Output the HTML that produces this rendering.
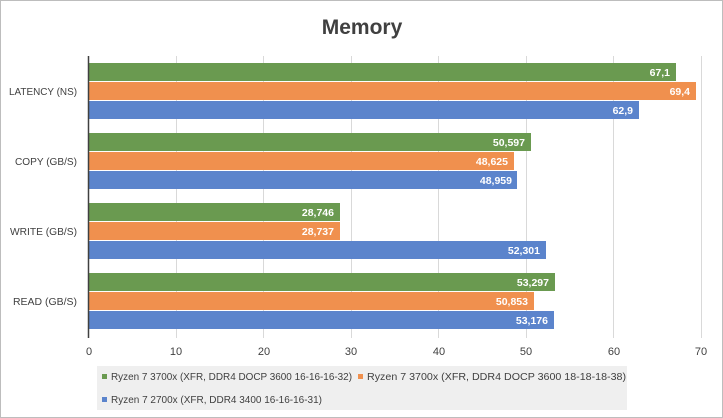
<!DOCTYPE html>
<html><head><style>
body{margin:0;background:#fff}
svg{display:block;font-family:"Liberation Sans",sans-serif}
</style></head><body>
<svg width="723" height="418" viewBox="0 0 723 418">
<rect x="0.5" y="0.5" width="722" height="417" fill="#fff" stroke="#bdbdbd"/>
<text x="362" y="34" font-size="21" font-weight="bold" fill="#404040" text-anchor="middle">Memory</text>
<g stroke="#d9d9d9" stroke-width="1">
<line x1="176.5" y1="56" x2="176.5" y2="338"/><line x1="263.5" y1="56" x2="263.5" y2="338"/>
<line x1="351.5" y1="56" x2="351.5" y2="338"/><line x1="438.5" y1="56" x2="438.5" y2="338"/>
<line x1="526.5" y1="56" x2="526.5" y2="338"/><line x1="613.5" y1="56" x2="613.5" y2="338"/>
<line x1="701.5" y1="56" x2="701.5" y2="338"/>
</g>
<g font-size="10.5" fill="#fff" font-weight="bold" text-anchor="end">
<rect x="89" y="63" width="587" height="18" fill="#6a9a50"/><text x="670" y="76">67,1</text>
<rect x="89" y="82" width="607" height="18" fill="#f0904e"/><text x="690" y="95">69,4</text>
<rect x="89" y="101" width="550" height="18" fill="#5b84cc"/><text x="633" y="114">62,9</text>
<rect x="89" y="133" width="442" height="18" fill="#6a9a50"/><text x="525" y="146">50,597</text>
<rect x="89" y="152" width="425" height="18" fill="#f0904e"/><text x="508" y="165">48,625</text>
<rect x="89" y="171" width="428" height="18" fill="#5b84cc"/><text x="512" y="184">48,959</text>
<rect x="89" y="203" width="251" height="18" fill="#6a9a50"/><text x="334" y="216">28,746</text>
<rect x="89" y="222" width="251" height="18" fill="#f0904e"/><text x="334" y="235">28,737</text>
<rect x="89" y="241" width="457" height="18" fill="#5b84cc"/><text x="540" y="254">52,301</text>
<rect x="89" y="273" width="466" height="18" fill="#6a9a50"/><text x="549" y="286">53,297</text>
<rect x="89" y="292" width="445" height="18" fill="#f0904e"/><text x="528" y="305">50,853</text>
<rect x="89" y="311" width="465" height="18" fill="#5b84cc"/><text x="548" y="324">53,176</text>
</g>
<line x1="88.5" y1="56" x2="88.5" y2="338" stroke="#404040" stroke-width="1.5"/>
<g font-size="10" fill="#404040">
<text x="9" y="95" textLength="68" lengthAdjust="spacingAndGlyphs">LATENCY (NS)</text>
<text x="15" y="165" textLength="62" lengthAdjust="spacingAndGlyphs">COPY (GB/S)</text>
<text x="10" y="235" textLength="67" lengthAdjust="spacingAndGlyphs">WRITE (GB/S)</text>
<text x="13" y="305" textLength="64" lengthAdjust="spacingAndGlyphs">READ (GB/S)</text>
</g>
<g font-size="11" fill="#404040" text-anchor="middle">
<text x="89" y="355">0</text><text x="176" y="355">10</text><text x="264" y="355">20</text>
<text x="351" y="355">30</text><text x="439" y="355">40</text><text x="526" y="355">50</text>
<text x="614" y="355">60</text><text x="701" y="355">70</text>
</g>
<rect x="97" y="366" width="530" height="44" fill="#efefef"/>
<g font-size="10.5" fill="#404040">
<rect x="102" y="374" width="5" height="5" fill="#6a9a50"/><text x="111" y="380" textLength="241" lengthAdjust="spacingAndGlyphs">Ryzen 7 3700x (XFR, DDR4 DOCP 3600 16-16-16-32)</text>
<rect x="358" y="374" width="5" height="5" fill="#f0904e"/><text x="367" y="380" textLength="259" lengthAdjust="spacingAndGlyphs">Ryzen 7 3700x (XFR, DDR4 DOCP 3600 18-18-18-38)</text>
<rect x="102" y="397" width="5" height="5" fill="#5b84cc"/><text x="111" y="403" textLength="211" lengthAdjust="spacingAndGlyphs">Ryzen 7 2700x (XFR, DDR4 3400 16-16-16-31)</text>
</g>
</svg>
</body></html>
